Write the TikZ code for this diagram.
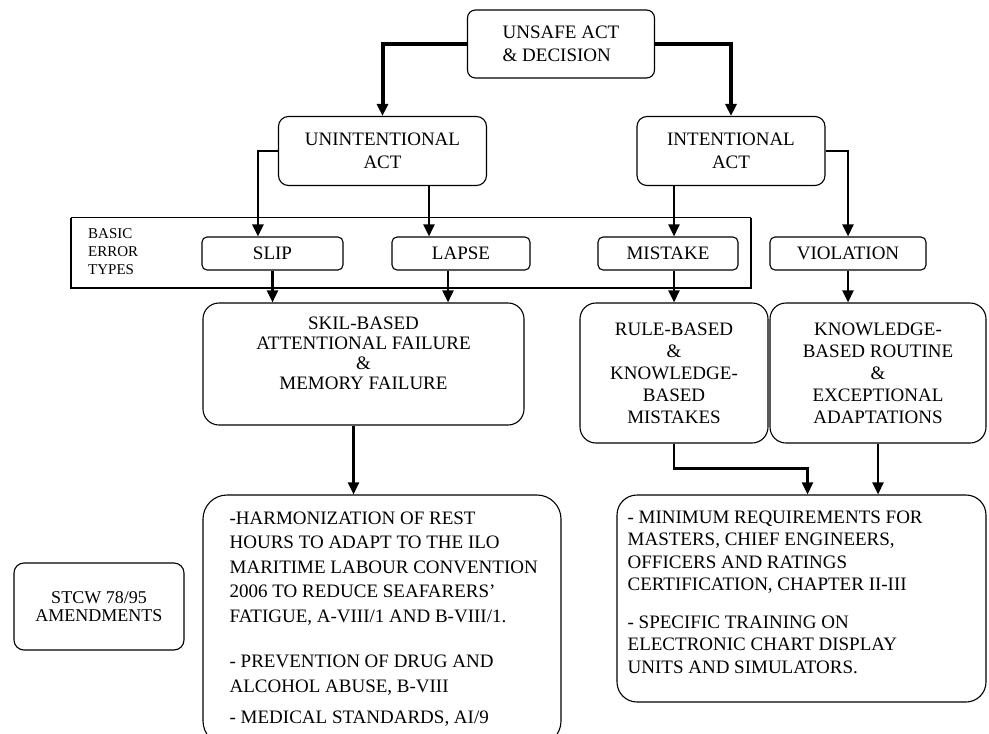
\documentclass[tikz,border=0pt]{standalone}
\usepackage{fontspec}
\setmainfont{Liberation Serif}
\usetikzlibrary{arrows.meta,positioning}

\newcommand{\boxfont}{\fontsize{19}{23}\selectfont}
\newcommand{\lblfont}{\fontsize{15}{18}\selectfont}

\begin{document}
\begin{tikzpicture}[x=1pt,y=-1pt,
    box/.style={draw, line width=1.1pt, rounded corners=#1, align=center, font=\boxfont, inner sep=0pt},
    box/.default=8pt,
    txt/.style={align=left, font=\boxfont, inner sep=0pt},
    arr/.style={-{Triangle[length=12pt,width=11pt]}, line width=2.5pt}]
    \path[use as bounding box, fill=white] (0,0) rectangle (989,734);
    \clip (0,0) rectangle (989,734);

    % decision and the two kinds of act
    \node[box, align=left, minimum width=187, minimum height=68] (unsafe) at (561,44) {UNSAFE ACT\\\& DECISION};
    \node[box=10pt, minimum width=208, minimum height=69] (unint) at (382.5,151) {UNINTENTIONAL\\ACT};
    \node[box=10pt, minimum width=188, minimum height=69] (intent) at (731,151) {INTENTIONAL\\ACT};

    % basic error types frame
    \node[minimum width=680, minimum height=70, inner sep=0pt] (basic) at (411,253) {};
    \draw[line width=1.2pt] (basic.north west) -- (basic.north east);
    \draw[line width=2.5pt] (basic.north west) -- (basic.south west) -- (basic.south east) -- (basic.north east);
    \node[txt, font=\lblfont, anchor=west] (basiclbl) at (88,252) {BASIC\\ERROR\\TYPES};

    \node[box=5pt, minimum width=141, minimum height=33] (slip) at (272.5,253.5) {SLIP};
    \node[box=5pt, minimum width=138, minimum height=33] (lapse) at (461,253.5) {LAPSE};
    \node[box=5pt, minimum width=140, minimum height=33] (mistake) at (668,253.5) {MISTAKE};
    \node[box=5pt, minimum width=156, minimum height=33] (violation) at (848,253.5) {VIOLATION};

    % failure types
    \node[box=16pt, minimum width=321, minimum height=122] (skill) at (363.5,364) {};
    \node[txt, align=center, font=\fontsize{19}{20}\selectfont, below=14pt of skill.north] (skilltext)
        {SKIL-BASED\\ATTENTIONAL FAILURE\\\&\\MEMORY FAILURE};
    \node[box=16pt, minimum width=188, minimum height=140, font=\fontsize{19}{22}\selectfont] (rule) at (674,373)
        {RULE-BASED\\\&\\KNOWLEDGE-\\BASED\\MISTAKES};
    \node[box=16pt, minimum width=216, minimum height=140, font=\fontsize{19}{22}\selectfont] (knowledge) at (878,373)
        {KNOWLEDGE-\\BASED ROUTINE\\\&\\EXCEPTIONAL\\ADAPTATIONS};

    % amendments
    \node[box=10pt, minimum width=170, minimum height=87, font=\fontsize{18}{18}\selectfont] (stcw) at (99,606.5)
        {STCW 78/95\\AMENDMENTS};
    \node[box=24pt, minimum width=358, minimum height=250] (harmon) at (382,620) {};
    \node[txt, font=\fontsize{19}{24.5}\selectfont, below right=17pt and 27pt of harmon.north west] (harmontext)
        {-HARMONIZATION OF REST\\HOURS TO ADAPT TO THE ILO\\MARITIME LABOUR CONVENTION\\2006 TO REDUCE SEAFARERS'\\FATIGUE, A-VIII/1 AND B-VIII/1.\\[21pt]- PREVENTION OF DRUG AND\\ALCOHOL ABUSE, B-VIII\\[7pt]- MEDICAL STANDARDS, AI/9};
    \node[box=20pt, minimum width=369, minimum height=207] (minreq) at (801.5,598.5) {};
    \node[txt, font=\fontsize{19}{22.5}\selectfont, below right=16pt and 11pt of minreq.north west] (minreqtext)
        {- MINIMUM REQUIREMENTS FOR\\MASTERS, CHIEF ENGINEERS,\\OFFICERS AND RATINGS\\CERTIFICATION, CHAPTER II-III\\[15pt]- SPECIFIC TRAINING ON\\ELECTRONIC CHART DISPLAY\\UNITS AND SIMULATORS.};

    % unsafe act splits in two
    \draw[arr, line width=4pt] (unsafe.west) -| (unint.north);
    \draw[arr, line width=4pt] (unsafe.east) -| (intent.north);

    % acts to error types
    \draw[arr] (unint.west) -- ++(-20,0) coordinate (slipbend) -- (slipbend |- slip.north);
    \coordinate (lapsein) at ([xshift=-32pt]lapse.north);
    \draw[arr] (lapsein |- unint.south) -- (lapsein);
    \coordinate (mistakein) at ([xshift=6pt]mistake.north);
    \draw[arr] (mistakein |- intent.south) -- (mistakein);
    \draw[arr] (intent.east) -| (violation.north);

    % error types to failure types
    \draw[arr] (slip.south) -- (slip.south |- skill.north);
    \coordinate (lapseout) at ([xshift=-13pt]lapse.south);
    \draw[arr] (lapseout) -- (lapseout |- skill.north);
    \draw[arr] (mistake.south -| rule.north) -- (rule.north);
    \draw[arr] (violation.south) -- (violation.south |- knowledge.north);

    % failure types to amendments
    \coordinate (skillout) at ([xshift=-10pt]skill.south);
    \draw[arr] (skillout) -- (skillout |- harmon.north);
    \draw[arr] (rule.south) -- ++(0,25) -| ([xshift=6pt]minreq.north);
    \draw[arr] (knowledge.south) -- (knowledge.south |- minreq.north);
\end{tikzpicture}
\end{document}
